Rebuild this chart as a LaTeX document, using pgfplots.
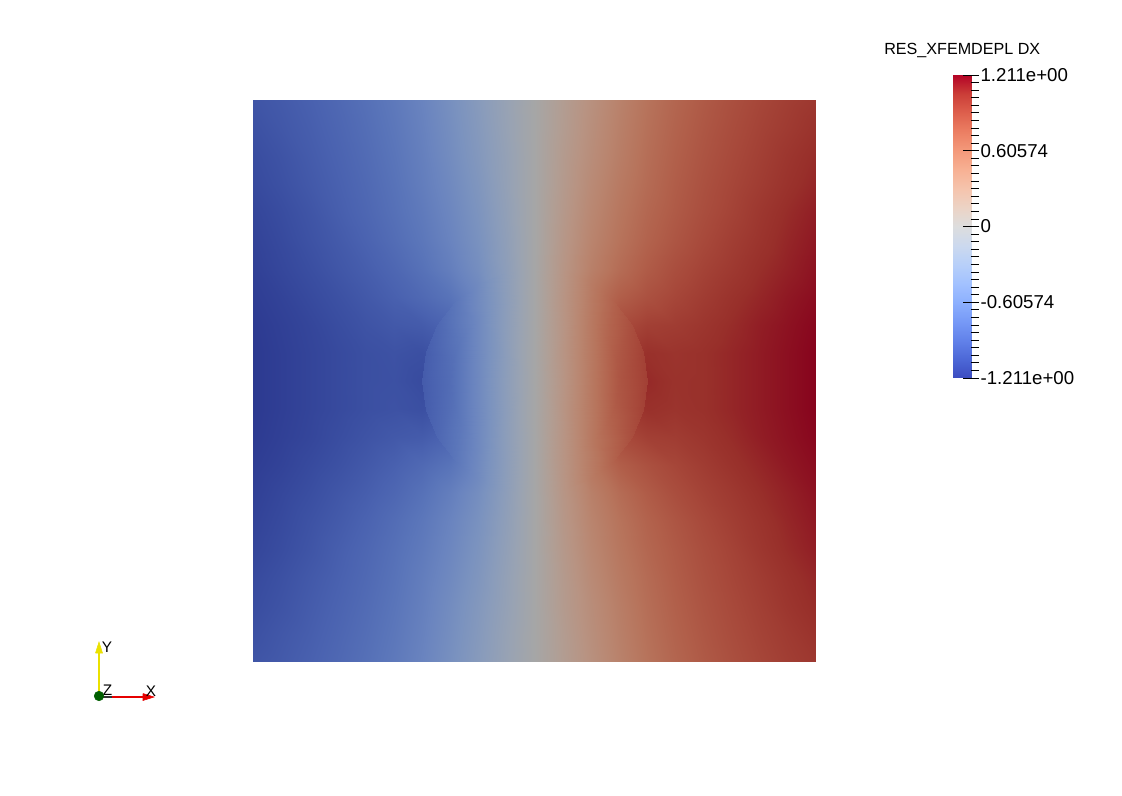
\documentclass[border=0pt]{standalone}
\usepackage{fontspec}
\setmainfont{Liberation Sans}
\usepackage{pgfplots}
\pgfplotsset{compat=1.18}
\pgfplotsset{
  colormap={cwshade}{rgb255=(44,57,144) rgb255=(58,78,161) rgb255=(74,98,176) rgb255=(89,116,185) rgb255=(106,132,191) rgb255=(122,146,191) rgb255=(138,156,187) rgb255=(153,163,179) rgb255=(166,166,166) rgb255=(177,158,148) rgb255=(184,147,130) rgb255=(185,133,111) rgb255=(183,116,92) rgb255=(177,95,74) rgb255=(167,72,58) rgb255=(152,47,42) rgb255=(135,3,29)},
  colormap={cw}{rgb255=(59,76,192) rgb255=(77,104,215) rgb255=(98,130,234) rgb255=(119,154,247) rgb255=(141,176,254) rgb255=(163,194,255) rgb255=(184,208,249) rgb255=(204,217,238) rgb255=(221,221,221) rgb255=(236,211,197) rgb255=(245,196,173) rgb255=(247,177,148) rgb255=(244,154,123) rgb255=(236,127,99) rgb255=(222,96,77) rgb255=(203,62,56) rgb255=(180,4,38)},
}
\definecolor{triadgreen}{RGB}{0,95,0}
\definecolor{triadyellow}{RGB}{235,225,0}
\definecolor{triadred}{RGB}{230,0,0}
\begin{document}
\begin{tikzpicture}
\useasboundingbox (0,0) rectangle (841.5pt,597pt);
\fill[white] (0,0) rectangle (841.5pt,597pt);
% ---------------- field ----------------
\begin{axis}[at={(189.75pt,100.5pt)}, anchor=south west, scale only axis,
  width=422.25pt, height=421.5pt, view={0}{90}, hide axis,
  xmin=0, xmax=1, ymin=0, ymax=1,
  colormap name=cwshade, point meta min=-1.211, point meta max=1.211]
\addplot3[surf, shader=interp, mesh/cols=21] coordinates {
(0,0,-1.01) (.05,0,-.97) (.1,0,-.92) (.15,0,-.86) (.2,0,-.79) (.25,0,-.71) (.3,0,-.61) (.35,0,-.48) (.4,0,-.33) (.45,0,-.17) (.5,0,0) (.55,0,.17) (.6,0,.33) (.65,0,.48) (.7,0,.61) (.75,0,.71) (.8,0,.79) (.85,0,.86) (.9,0,.92) (.95,0,.97) (1,0,1.01)
(0,.05,-1.04) (.05,.05,-.99) (.1,.05,-.94) (.15,.05,-.88) (.2,.05,-.81) (.25,.05,-.73) (.3,.05,-.63) (.35,.05,-.50) (.4,.05,-.35) (.45,.05,-.18) (.5,.05,0) (.55,.05,.18) (.6,.05,.35) (.65,.05,.50) (.7,.05,.63) (.75,.05,.73) (.8,.05,.81) (.85,.05,.88) (.9,.05,.94) (.95,.05,.99) (1,.05,1.04)
(0,.1,-1.07) (.05,.1,-1.02) (.1,.1,-.96) (.15,.1,-.90) (.2,.1,-.83) (.25,.1,-.75) (.3,.1,-.65) (.35,.1,-.52) (.4,.1,-.37) (.45,.1,-.20) (.5,.1,0) (.55,.1,.20) (.6,.1,.37) (.65,.1,.52) (.7,.1,.65) (.75,.1,.75) (.8,.1,.83) (.85,.1,.90) (.9,.1,.96) (.95,.1,1.02) (1,.1,1.07)
(0,.15,-1.09) (.05,.15,-1.04) (.1,.15,-.98) (.15,.15,-.92) (.2,.15,-.85) (.25,.15,-.77) (.3,.15,-.67) (.35,.15,-.55) (.4,.15,-.40) (.45,.15,-.21) (.5,.15,0) (.55,.15,.21) (.6,.15,.40) (.65,.15,.55) (.7,.15,.67) (.75,.15,.77) (.8,.15,.85) (.85,.15,.92) (.9,.15,.98) (.95,.15,1.04) (1,.15,1.09)
(0,.2,-1.12) (.05,.2,-1.07) (.1,.2,-1.01) (.15,.2,-.94) (.2,.2,-.87) (.25,.2,-.79) (.3,.2,-.70) (.35,.2,-.58) (.4,.2,-.43) (.45,.2,-.23) (.5,.2,0) (.55,.2,.23) (.6,.2,.43) (.65,.2,.58) (.7,.2,.70) (.75,.2,.79) (.8,.2,.87) (.85,.2,.94) (.9,.2,1.01) (.95,.2,1.07) (1,.2,1.12)
(0,.25,-1.14) (.05,.25,-1.09) (.1,.25,-1.03) (.15,.25,-.97) (.2,.25,-.90) (.25,.25,-.82) (.3,.25,-.73) (.35,.25,-.61) (.4,.25,-.46) (.45,.25,-.25) (.5,.25,0) (.55,.25,.25) (.6,.25,.46) (.65,.25,.61) (.7,.25,.73) (.75,.25,.82) (.8,.25,.90) (.85,.25,.97) (.9,.25,1.03) (.95,.25,1.09) (1,.25,1.14)
(0,.3,-1.16) (.05,.3,-1.11) (.1,.3,-1.06) (.15,.3,-1.00) (.2,.3,-.94) (.25,.3,-.87) (.3,.3,-.78) (.35,.3,-.66) (.4,.3,-.50) (.45,.3,-.27) (.5,.3,0) (.55,.3,.27) (.6,.3,.50) (.65,.3,.66) (.7,.3,.78) (.75,.3,.87) (.8,.3,.94) (.85,.3,1.00) (.9,.3,1.06) (.95,.3,1.11) (1,.3,1.16)
(0,.35,-1.18) (.05,.35,-1.14) (.1,.35,-1.09) (.15,.35,-1.04) (.2,.35,-.98) (.25,.35,-.92) (.3,.35,-.85) (.35,.35,-.76) (.4,.35,-.58) (.45,.35,-.30) (.5,.35,0) (.55,.35,.30) (.6,.35,.58) (.65,.35,.76) (.7,.35,.85) (.75,.35,.92) (.8,.35,.98) (.85,.35,1.04) (.9,.35,1.09) (.95,.35,1.14) (1,.35,1.18)
(0,.4,-1.20) (.05,.4,-1.16) (.1,.4,-1.12) (.15,.4,-1.07) (.2,.4,-1.02) (.25,.4,-.98) (.3,.4,-.96) (.35,.4,-.88) (.4,.4,-.70) (.45,.4,-.30) (.5,.4,0) (.55,.4,.30) (.6,.4,.70) (.65,.4,.88) (.7,.4,.96) (.75,.4,.98) (.8,.4,1.02) (.85,.4,1.07) (.9,.4,1.12) (.95,.4,1.16) (1,.4,1.20)
(0,.45,-1.21) (.05,.45,-1.17) (.1,.45,-1.13) (.15,.45,-1.09) (.2,.45,-1.05) (.25,.45,-1.03) (.3,.45,-1.05) (.35,.45,-.98) (.4,.45,-.60) (.45,.45,-.30) (.5,.45,0) (.55,.45,.30) (.6,.45,.60) (.65,.45,.98) (.7,.45,1.05) (.75,.45,1.03) (.8,.45,1.05) (.85,.45,1.09) (.9,.45,1.13) (.95,.45,1.17) (1,.45,1.21)
(0,.5,-1.21) (.05,.5,-1.17) (.1,.5,-1.13) (.15,.5,-1.09) (.2,.5,-1.05) (.25,.5,-1.04) (.3,.5,-1.08) (.35,.5,-1.00) (.4,.5,-.60) (.45,.5,-.30) (.5,.5,0) (.55,.5,.30) (.6,.5,.60) (.65,.5,1.00) (.7,.5,1.08) (.75,.5,1.04) (.8,.5,1.05) (.85,.5,1.09) (.9,.5,1.13) (.95,.5,1.17) (1,.5,1.21)
(0,.55,-1.21) (.05,.55,-1.17) (.1,.55,-1.13) (.15,.55,-1.09) (.2,.55,-1.05) (.25,.55,-1.03) (.3,.55,-1.05) (.35,.55,-.98) (.4,.55,-.60) (.45,.55,-.30) (.5,.55,0) (.55,.55,.30) (.6,.55,.60) (.65,.55,.98) (.7,.55,1.05) (.75,.55,1.03) (.8,.55,1.05) (.85,.55,1.09) (.9,.55,1.13) (.95,.55,1.17) (1,.55,1.21)
(0,.6,-1.20) (.05,.6,-1.16) (.1,.6,-1.12) (.15,.6,-1.07) (.2,.6,-1.02) (.25,.6,-.98) (.3,.6,-.96) (.35,.6,-.88) (.4,.6,-.70) (.45,.6,-.30) (.5,.6,0) (.55,.6,.30) (.6,.6,.70) (.65,.6,.88) (.7,.6,.96) (.75,.6,.98) (.8,.6,1.02) (.85,.6,1.07) (.9,.6,1.12) (.95,.6,1.16) (1,.6,1.20)
(0,.65,-1.18) (.05,.65,-1.14) (.1,.65,-1.09) (.15,.65,-1.04) (.2,.65,-.98) (.25,.65,-.92) (.3,.65,-.85) (.35,.65,-.76) (.4,.65,-.58) (.45,.65,-.30) (.5,.65,0) (.55,.65,.30) (.6,.65,.58) (.65,.65,.76) (.7,.65,.85) (.75,.65,.92) (.8,.65,.98) (.85,.65,1.04) (.9,.65,1.09) (.95,.65,1.14) (1,.65,1.18)
(0,.7,-1.16) (.05,.7,-1.11) (.1,.7,-1.06) (.15,.7,-1.00) (.2,.7,-.94) (.25,.7,-.87) (.3,.7,-.78) (.35,.7,-.66) (.4,.7,-.50) (.45,.7,-.27) (.5,.7,0) (.55,.7,.27) (.6,.7,.50) (.65,.7,.66) (.7,.7,.78) (.75,.7,.87) (.8,.7,.94) (.85,.7,1.00) (.9,.7,1.06) (.95,.7,1.11) (1,.7,1.16)
(0,.75,-1.14) (.05,.75,-1.09) (.1,.75,-1.03) (.15,.75,-.97) (.2,.75,-.90) (.25,.75,-.82) (.3,.75,-.73) (.35,.75,-.61) (.4,.75,-.46) (.45,.75,-.25) (.5,.75,0) (.55,.75,.25) (.6,.75,.46) (.65,.75,.61) (.7,.75,.73) (.75,.75,.82) (.8,.75,.90) (.85,.75,.97) (.9,.75,1.03) (.95,.75,1.09) (1,.75,1.14)
(0,.8,-1.12) (.05,.8,-1.07) (.1,.8,-1.01) (.15,.8,-.94) (.2,.8,-.87) (.25,.8,-.79) (.3,.8,-.70) (.35,.8,-.58) (.4,.8,-.43) (.45,.8,-.23) (.5,.8,0) (.55,.8,.23) (.6,.8,.43) (.65,.8,.58) (.7,.8,.70) (.75,.8,.79) (.8,.8,.87) (.85,.8,.94) (.9,.8,1.01) (.95,.8,1.07) (1,.8,1.12)
(0,.85,-1.09) (.05,.85,-1.04) (.1,.85,-.98) (.15,.85,-.92) (.2,.85,-.85) (.25,.85,-.77) (.3,.85,-.67) (.35,.85,-.55) (.4,.85,-.40) (.45,.85,-.21) (.5,.85,0) (.55,.85,.21) (.6,.85,.40) (.65,.85,.55) (.7,.85,.67) (.75,.85,.77) (.8,.85,.85) (.85,.85,.92) (.9,.85,.98) (.95,.85,1.04) (1,.85,1.09)
(0,.9,-1.07) (.05,.9,-1.02) (.1,.9,-.96) (.15,.9,-.90) (.2,.9,-.83) (.25,.9,-.75) (.3,.9,-.65) (.35,.9,-.52) (.4,.9,-.37) (.45,.9,-.20) (.5,.9,0) (.55,.9,.20) (.6,.9,.37) (.65,.9,.52) (.7,.9,.65) (.75,.9,.75) (.8,.9,.83) (.85,.9,.90) (.9,.9,.96) (.95,.9,1.02) (1,.9,1.07)
(0,.95,-1.04) (.05,.95,-.99) (.1,.95,-.94) (.15,.95,-.88) (.2,.95,-.81) (.25,.95,-.73) (.3,.95,-.63) (.35,.95,-.50) (.4,.95,-.35) (.45,.95,-.18) (.5,.95,0) (.55,.95,.18) (.6,.95,.35) (.65,.95,.50) (.7,.95,.63) (.75,.95,.73) (.8,.95,.81) (.85,.95,.88) (.9,.95,.94) (.95,.95,.99) (1,.95,1.04)
(0,1,-1.01) (.05,1,-.97) (.1,1,-.92) (.15,1,-.86) (.2,1,-.79) (.25,1,-.71) (.3,1,-.61) (.35,1,-.48) (.4,1,-.33) (.45,1,-.17) (.5,1,0) (.55,1,.17) (.6,1,.33) (.65,1,.48) (.7,1,.61) (.75,1,.71) (.8,1,.79) (.85,1,.86) (.9,1,.92) (.95,1,.97) (1,1,1.01)
};
% inner disc of the circular crack (r = 0, 0.05, 0.1, 0.15, 0.2; every 15 degrees)
\addplot3[surf, shader=interp, mesh/cols=25] coordinates {
(.5,.5,0) (.5,.5,0) (.5,.5,0) (.5,.5,0) (.5,.5,0) (.5,.5,0) (.5,.5,0) (.5,.5,0) (.5,.5,0) (.5,.5,0) (.5,.5,0) (.5,.5,0) (.5,.5,0) (.5,.5,0) (.5,.5,0) (.5,.5,0) (.5,.5,0) (.5,.5,0) (.5,.5,0) (.5,.5,0) (.5,.5,0) (.5,.5,0) (.5,.5,0) (.5,.5,0) (.5,.5,0)
(.55,.5,.28) (.5483,.5129,.27) (.5433,.525,.242) (.5354,.5354,.198) (.525,.5433,.14) (.5129,.5483,.072) (.5,.55,0) (.4871,.5483,-.072) (.475,.5433,-.14) (.4646,.5354,-.198) (.4567,.525,-.242) (.4517,.5129,-.27) (.45,.5,-.28) (.4517,.4871,-.27) (.4567,.475,-.242) (.4646,.4646,-.198) (.475,.4567,-.14) (.4871,.4517,-.072) (.5,.45,0) (.5129,.4517,.072) (.525,.4567,.14) (.5354,.4646,.198) (.5433,.475,.242) (.5483,.4871,.27) (.55,.5,.28)
(.6,.5,.56) (.5966,.5259,.541) (.5866,.55,.485) (.5707,.5707,.396) (.55,.5866,.28) (.5259,.5966,.145) (.5,.6,0) (.4741,.5966,-.145) (.45,.5866,-.28) (.4293,.5707,-.396) (.4134,.55,-.485) (.4034,.5259,-.541) (.4,.5,-.56) (.4034,.4741,-.541) (.4134,.45,-.485) (.4293,.4293,-.396) (.45,.4134,-.28) (.4741,.4034,-.145) (.5,.4,0) (.5259,.4034,.145) (.55,.4134,.28) (.5707,.4293,.396) (.5866,.45,.485) (.5966,.4741,.541) (.6,.5,.56)
(.65,.5,.82) (.6449,.5388,.795) (.6299,.575,.72) (.6061,.6061,.59) (.575,.6299,.42) (.5388,.6449,.217) (.5,.65,0) (.4612,.6449,-.217) (.425,.6299,-.42) (.3939,.6061,-.59) (.3701,.575,-.72) (.3551,.5388,-.795) (.35,.5,-.82) (.3551,.4612,-.795) (.3701,.425,-.72) (.3939,.3939,-.59) (.425,.3701,-.42) (.4612,.3551,-.217) (.5,.35,0) (.5388,.3551,.217) (.575,.3701,.42) (.6061,.3939,.59) (.6299,.425,.72) (.6449,.4612,.795) (.65,.5,.82)
(.7,.5,.96) (.6932,.5518,.945) (.6732,.6,.87) (.6414,.6414,.74) (.6,.6732,.54) (.5518,.6932,.285) (.5,.7,0) (.4482,.6932,-.285) (.4,.6732,-.54) (.3586,.6414,-.74) (.3268,.6,-.87) (.3068,.5518,-.945) (.3,.5,-.96) (.3068,.4482,-.945) (.3268,.4,-.87) (.3586,.3586,-.74) (.4,.3268,-.54) (.4482,.3068,-.285) (.5,.3,0) (.5518,.3068,.285) (.6,.3268,.54) (.6414,.3586,.74) (.6732,.4,.87) (.6932,.4482,.945) (.7,.5,.96)
};
\end{axis}
% ---------------- colour bar ----------------
\begin{axis}[at={(714.75pt,313.5pt)}, anchor=south west, scale only axis,
  width=13.5pt, height=227.25pt, axis on top,
  xmin=0, xmax=1, ymin=-1.211, ymax=1.211,
  colormap name=cw, point meta min=-1.211, point meta max=1.211,
  axis line style={draw=none}, xtick=\empty,
  ytick={-1.211,-0.60574,0,0.60574,1.211},
  yticklabels={\mbox{-1.211e+00},\mbox{-0.60574},\mbox{0},\mbox{0.60574},\mbox{1.211e+00}},
  minor ytick={-1.1505,-1.0899,-1.0294,-0.9688,-0.9083,-0.8477,-0.7872,-0.7266,-0.6661,-0.5450,-0.4844,-0.4239,-0.3633,-0.3028,-0.2422,-0.1817,-0.1211,-0.0606,0.0606,0.1211,0.1817,0.2422,0.3028,0.3633,0.4239,0.4844,0.5450,0.6661,0.7266,0.7872,0.8477,0.9083,0.9688,1.0294,1.0899,1.1505},
  ytick pos=right, yticklabel pos=right,
  tick align=outside, major tick length=6pt, minor tick length=6pt,
  tick style={black, line width=0.6pt},
  extra y ticks={-1.211,-0.60574,0,0.60574,1.211},
  extra y tick labels={},
  extra y tick style={tick align=inside},
  yticklabel style={font=\fontsize{14pt}{16pt}\selectfont, inner sep=1pt, anchor=west, text=black}]
\addplot[surf, shader=interp, mesh/cols=2, point meta=explicit] coordinates {
(0,-1.211) [-1.211] (1,-1.211) [-1.211]
(0,-0.908) [-0.908] (1,-0.908) [-0.908]
(0,-0.606) [-0.606] (1,-0.606) [-0.606]
(0,-0.303) [-0.303] (1,-0.303) [-0.303]
(0,0) [0] (1,0) [0]
(0,0.303) [0.303] (1,0.303) [0.303]
(0,0.606) [0.606] (1,0.606) [0.606]
(0,0.908) [0.908] (1,0.908) [0.908]
(0,1.211) [1.211] (1,1.211) [1.211]
};
\end{axis}
% ---------------- overlay: title and orientation triad ----------------
\begin{axis}[at={(0pt,0pt)}, anchor=south west, scale only axis,
  width=841.5pt, height=597pt, xmin=0, xmax=1122, ymin=0, ymax=796,
  y dir=reverse, hide axis, clip=false]
\node[anchor=west, inner sep=0pt, font=\fontsize{12.1pt}{14pt}\selectfont] at (axis cs:884,50) {RES\_XFEMDEPL DX};
\addplot[triadyellow, line width=0.8pt] coordinates {(99,694) (99,652)};
\addplot[fill=triadyellow, draw=triadyellow] coordinates {(95.5,653) (99,642) (102.5,653) (95.5,653)};
\addplot[black!80, line width=1.2pt] coordinates {(103,697) (112,697)};
\addplot[triadred, line width=1.2pt] coordinates {(112,697) (144,697)};
\addplot[fill=triadred, draw=triadred] coordinates {(143,693.5) (154,697) (143,700.5) (143,693.5)};
\addplot[only marks, mark=*, mark size=3.6pt, color=triadgreen] coordinates {(99,696)};
\node[font=\fontsize{11.5pt}{13pt}\selectfont] at (axis cs:107,647) {Y};
\node[font=\fontsize{11.5pt}{13pt}\selectfont] at (axis cs:107.5,690) {Z};
\node[font=\fontsize{11.5pt}{13pt}\selectfont] at (axis cs:151,691) {X};
\end{axis}
\end{tikzpicture}
\end{document}
